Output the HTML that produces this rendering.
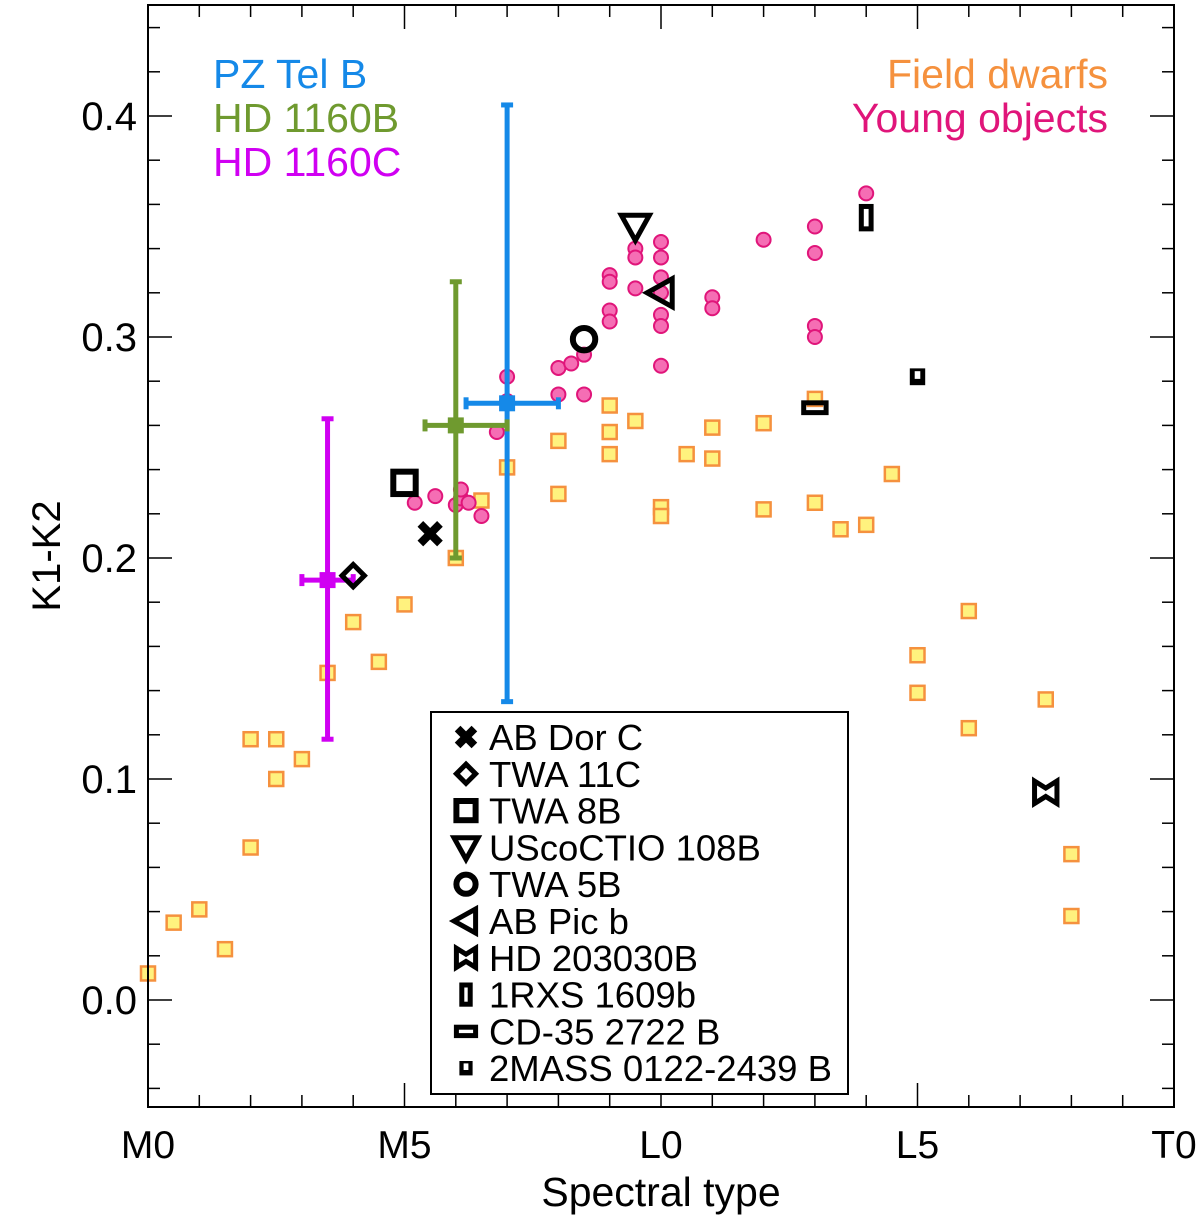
<!DOCTYPE html>
<html><head><meta charset="utf-8"><style>
body{margin:0;background:#fff}
svg{display:block;font-family:"Liberation Sans",sans-serif}
</style></head><body>
<svg id="chart" width="1200" height="1219"></svg>
<script>
const fieldX=[0,0.5,1,1.5,2,2,2.5,2.5,3,3.5,4,4.5,5,6,6.5,7,8,8,9,9,9,9.5,10,10,10.5,11,11,12,12,13,13,13.5,14,14.5,15,15,16,16,17.5,18,18];
const fieldY=[0.012,0.035,0.041,0.023,0.118,0.069,0.118,0.100,0.109,0.148,0.171,0.153,0.179,0.2,0.226,0.241,0.253,0.229,0.269,0.257,0.247,0.262,0.223,0.219,0.247,0.259,0.245,0.261,0.222,0.272,0.225,0.213,0.215,0.238,0.156,0.139,0.176,0.123,0.136,0.066,0.038];
const youngX=[5.2,5.6,6,6.1,6.1,6.25,6.5,6.8,7,7,8,8,8.25,8.5,8.5,9,9,9,9,9.5,9.5,9.5,10,10,10,10,10,10,10,11,11,12,13,13,13,13,14];
const youngY=[0.225,0.228,0.224,0.227,0.231,0.225,0.219,0.257,0.282,0.271,0.286,0.274,0.288,0.274,0.292,0.328,0.325,0.312,0.307,0.340,0.336,0.322,0.343,0.336,0.327,0.32,0.31,0.305,0.287,0.318,0.313,0.344,0.35,0.338,0.305,0.3,0.365];
const objNames=["AB Dor C","TWA 11C","TWA 8B","UScoCTIO 108B","TWA 5B","AB Pic b","HD 203030B","1RXS 1609b","CD-35 2722 B","2MASS 0122-2439 B"];
const objSym=["x","diamond","square","tridown","circle","trileft","bowtie","tall","wide","small"];
const objX=[5.5,4,5,9.5,8.5,10,17.5,14,13,15];
const objY=[0.211,0.192,0.234,0.35,0.299,0.32,0.094,0.354,0.268,0.282];
const ebNames=["PZ Tel B","HD 1160B","HD 1160C"];
const ebColors=["#1589e8","#6f9a2f","#d000f2"];
const ebX=[7,6,3.5],ebXlo=[6.2,5.4,3],ebXhi=[8,7,4];
const ebY=[0.27,0.26,0.19],ebYlo=[0.135,0.2,0.118],ebYhi=[0.405,0.325,0.263];
const xTickVals=[0,5,10,15,20];
const xTickLabels=["M0","M5","L0","L5","T0"];
const yTickVals=[0,0.1,0.2,0.3,0.4];
const yTickLabels=["0.0","0.1","0.2","0.3","0.4"];

const L=148,R=1174,T=5,B=1107;
const sx=v=>L+v*(R-L)/20;
const sy=v=>1000-v*2210;
const svg=document.getElementById('chart');
const NS="http://www.w3.org/2000/svg";
function mk(tag,attrs,parent){const e=document.createElementNS(NS,tag);for(const k in attrs)e.setAttribute(k,attrs[k]);(parent||svg).appendChild(e);return e;}

for(let i=0;i<=20;i++){const x=sx(i),len=(i%5===0)?24:12;
 const t1=mk('line',{x1:x,y1:B,x2:x,y2:B-len,stroke:'#000','stroke-width':1.5});
 
 const t2=mk('line',{x1:x,y1:T,x2:x,y2:T+len,stroke:'#000','stroke-width':1.5});
 }
for(let k=-2;k<=22;k++){const v=k*0.02,y=sy(v);if(y<T||y>B)continue;const len=(k%5===0)?24:12;
 const t1=mk('line',{x1:L,y1:y,x2:L+len,y2:y,stroke:'#000','stroke-width':1.5});
 
 const t2=mk('line',{x1:R,y1:y,x2:R-len,y2:y,stroke:'#000','stroke-width':1.5});
 }
xTickVals.forEach((v,i)=>{const t=mk('text',{x:sx(v),y:1158,'font-size':39,'text-anchor':'middle'});t.textContent=xTickLabels[i];
 });
yTickVals.forEach((v,i)=>{const t=mk('text',{x:137,y:sy(v)+14,'font-size':40,'text-anchor':'end'});t.textContent=yTickLabels[i];
 });
let at=mk('text',{x:661,y:1206,'font-size':41,'text-anchor':'middle'});at.textContent="Spectral type";

at=mk('text',{x:0,y:0,'font-size':40,'text-anchor':'middle',transform:'translate(60,556) rotate(-90)'});at.textContent="K1-K2";


fieldX.forEach((v,i)=>{const r=mk('rect',{x:sx(v)-7,y:sy(fieldY[i])-7,width:14,height:14,fill:'#fff27e',stroke:'#f5913e','stroke-width':2.5});
 });
youngX.forEach((v,i)=>{const c=mk('circle',{cx:sx(v),cy:sy(youngY[i]),r:7,fill:'#f56eb4',stroke:'#e0157a','stroke-width':2});
 });
ebNames.forEach((n,i)=>{const g=mk('g',{stroke:ebColors[i],'stroke-width':5,fill:ebColors[i]});
 
 const x=sx(ebX[i]),y=sy(ebY[i]);
 mk('line',{x1:x,y1:sy(ebYlo[i]),x2:x,y2:sy(ebYhi[i])},g);
 mk('line',{x1:sx(ebXlo[i]),y1:y,x2:sx(ebXhi[i]),y2:y},g);
 [sy(ebYlo[i]),sy(ebYhi[i])].forEach(yy=>mk('line',{x1:x-6,y1:yy,x2:x+6,y2:yy},g));
 [sx(ebXlo[i]),sx(ebXhi[i])].forEach(xx=>mk('line',{x1:xx,y1:y-6,x2:xx,y2:y+6},g));
 mk('rect',{x:x-8,y:y-8,width:16,height:16,stroke:'none'},g);
});
function sym(type,x,y,s){const g=mk('g',{stroke:'#000','stroke-width':6,fill:'none'});
 if(type==='x'){mk('line',{x1:x-s*0.7,y1:y-s*0.7,x2:x+s*0.7,y2:y+s*0.7,'stroke-width':8},g);mk('line',{x1:x-s*0.7,y1:y+s*0.7,x2:x+s*0.7,y2:y-s*0.7,'stroke-width':8},g);}
 else if(type==='diamond')mk('polygon',{points:`${x},${y-s*0.8} ${x+s*0.8},${y} ${x},${y+s*0.8} ${x-s*0.8},${y}`,'stroke-width':5},g);
 else if(type==='square')mk('rect',{x:x-s*0.8,y:y-s*0.8,width:1.6*s,height:1.6*s},g);
 else if(type==='tridown')mk('polygon',{points:`${x-s},${y-s*0.8} ${x+s},${y-s*0.8} ${x},${y+s}`,'stroke-width':5},g);
 else if(type==='circle')mk('circle',{cx:x,cy:y,r:s*0.8},g);
 else if(type==='trileft')mk('polygon',{points:`${x-s},${y} ${x+s*0.8},${y-s} ${x+s*0.8},${y+s}`,'stroke-width':5},g);
 else if(type==='bowtie')mk('polygon',{points:`${x-s*0.8},${y-s*0.8} ${x},${y-s*0.3} ${x+s*0.8},${y-s*0.8} ${x+s*0.8},${y+s*0.8} ${x},${y+s*0.3} ${x-s*0.8},${y+s*0.8}`,'stroke-width':5},g);
 else if(type==='tall')mk('rect',{x:x-s*0.35,y:y-s*0.8,width:s*0.7,height:s*1.6,'stroke-width':5},g);
 else if(type==='wide')mk('rect',{x:x-s*0.8,y:y-s*0.35,width:s*1.6,height:s*0.7,'stroke-width':5},g);
 else if(type==='small'){mk('rect',{x:x-s*0.55,y:y-s*0.6,width:s*1.1,height:s*1.2,fill:'#000',stroke:'none'},g);mk('rect',{x:x-s*0.2,y:y-s*0.4,width:s*0.4,height:s*0.55,fill:'#fff',stroke:'none'},g);}
 return g;}
objNames.forEach((n,i)=>{const g=sym(objSym[i],sx(objX[i]),sy(objY[i]),14);
 });

const lg=mk('g',{});
mk('rect',{x:431,y:712,width:417,height:382,fill:'#fff',stroke:'#000','stroke-width':2},lg);
objNames.forEach((n,i)=>{const y=737+i*36.8;
 const g=sym(objSym[i],466,y,12);lg.appendChild(g);
 
 const t=mk('text',{x:489,y:y+13,'font-size':36.5},lg);t.textContent=n;
 });

const ab=mk('rect',{x:L,y:T,width:R-L,height:B-T,fill:'none',stroke:'#000','stroke-width':2});


ebNames.forEach((n,i)=>{const t=mk('text',{x:213,y:88+i*44,'font-size':41,fill:ebColors[i]});t.textContent=n;
 });
let t=mk('text',{x:1108,y:88,'font-size':41,fill:'#f5913e','text-anchor':'end'});t.textContent="Field dwarfs";

t=mk('text',{x:1108,y:132,'font-size':41,fill:'#e0157a','text-anchor':'end'});t.textContent="Young objects";

</script>
</body></html>
